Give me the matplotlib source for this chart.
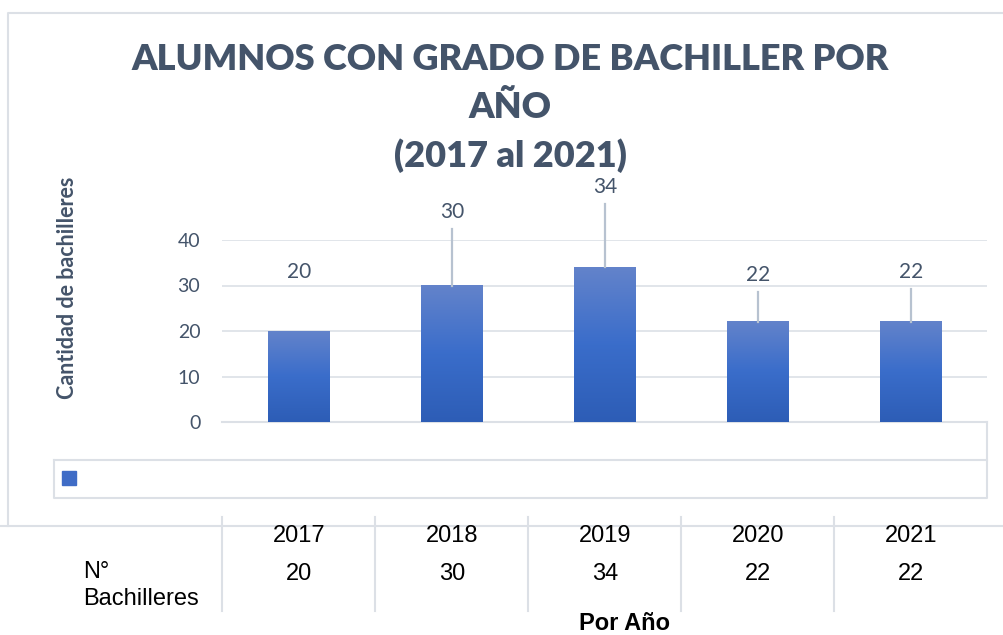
import numpy as np
import matplotlib
matplotlib.use("Agg")
import matplotlib.pyplot as plt
from matplotlib import transforms
from matplotlib.colors import LinearSegmentedColormap

# data
years = ["2017", "2018", "2019", "2020", "2021"]
bachilleres = [20, 30, 34, 22, 22]
yticks = [0, 10, 20, 30, 40]
title_lines = ["ALUMNOS CON GRADO DE BACHILLER POR", "AÑO", "(2017 al 2021)"]

# where the data labels sit and whether a leader line is drawn (layout only)
label_pos = [33.0, 46.1, 51.6, 32.3, 33.0]
leader = [False, True, True, True, True]

W, H = 1004, 635
SLATE = "#44546A"
GRID = "#DCE0E6"
LEADER = "#B7C2D0"


def fx(px):
    return px / W


def fy(py):
    return 1 - py / H


fig = plt.figure(figsize=(W / 100, H / 100), dpi=100)
fig.patch.set_facecolor("white")

# main plot area
ax = fig.add_axes([fx(222.5), fy(422), fx(987.5) - fx(222.5), (422 - 240) / H])
ax.set_facecolor("none")
x = np.arange(len(years))
bar_w = 0.405

grad = LinearSegmentedColormap.from_list("xl", ["#2D5DB6", "#3A6DCA", "#6383CB"])
bars = ax.bar(x, bachilleres, width=bar_w, color="none", zorder=3)
for b in bars:
    x0, w, h = b.get_x(), b.get_width(), b.get_height()
    ax.imshow(np.linspace(0, 1, 256).reshape(-1, 1), cmap=grad, origin="lower",
              extent=[x0, x0 + w, 0, h], aspect="auto", zorder=3)

ax.set_xlim(-0.5, len(years) - 0.5)
ax.set_ylim(0, 40)
ax.set_yticks(yticks)
ax.set_xticks([])
ax.yaxis.grid(True, color=GRID, lw=1.2, zorder=0)
ax.set_axisbelow(True)
for s in ax.spines.values():
    s.set_visible(False)
ax.tick_params(axis="y", length=0, pad=16, labelsize=14, labelcolor=SLATE)
for t in ax.get_yticklabels():
    t.set_fontfamily("Lato")

# data labels with leader lines
for xi, v, ly, ld in zip(x, bachilleres, label_pos, leader):
    ax.text(xi, ly, str(v), ha="center", va="center", fontsize=15,
            color=SLATE, family="Lato", clip_on=False, zorder=5)
    if ld:
        ax.plot([xi, xi], [v, ly - 3.7], color=LEADER, lw=1.6, clip_on=False, zorder=4)

# frame lines drawn in figure pixels, kept under the text
def line(xs, ys, **kw):
    fig.add_artist(plt.Line2D([fx(a) for a in xs], [fy(b) for b in ys],
                              color=GRID, lw=1.5, zorder=-1, **kw))

line([8, 8, 1010], [526, 13, 13])
line([0, 1004], [526, 526])
line([222, 987], [422, 422])
line([987, 987], [422, 460])
line([54, 987, 987, 54, 54], [460, 460, 498, 498, 460])
fig.add_artist(plt.Rectangle((fx(62), fy(485)), fx(76) - fx(62), fy(471) - fy(485),
                             color="#3F6CC6", transform=fig.transFigure))

# title
for txt, base in zip(title_lines, [70, 118, 167]):
    fig.text(0.508, fy(base), txt, ha="center", va="baseline", fontsize=26,
             fontweight="heavy", color=SLATE, family="Lato")

fig.text(fx(68), fy(288), "Cantidad de bachilleres", rotation=90, ha="center",
         va="center", fontsize=15.5, fontweight="bold", color=SLATE, family="Lato")

# data table below the chart
tr = transforms.blended_transform_factory(ax.transData, fig.transFigure)
for xi, yr, v in zip(x, years, bachilleres):
    ax.text(xi, fy(542), yr, transform=tr, ha="center", va="baseline",
            fontsize=17, color="black", family="Liberation Sans")
    ax.text(xi, fy(580), str(v), transform=tr, ha="center", va="baseline",
            fontsize=17, color="black", family="Liberation Sans")
for xi in list(x - 0.5):
    ax.plot([xi, xi], [fy(517), fy(611)], transform=tr, color=GRID, lw=1.5, clip_on=False)

fig.text(fx(83), fy(578), "N°", ha="left", va="baseline", fontsize=17,
         color="black", family="Liberation Sans")
fig.text(fx(83), fy(605), "Bachilleres", ha="left", va="baseline", fontsize=17,
         color="black", family="Liberation Sans")
fig.text(fx(625), fy(630), "Por Año", ha="center", va="baseline", fontsize=17,
         fontweight="bold", color="black", family="Liberation Sans")

fig.savefig("out.png", dpi=100, facecolor="white")
